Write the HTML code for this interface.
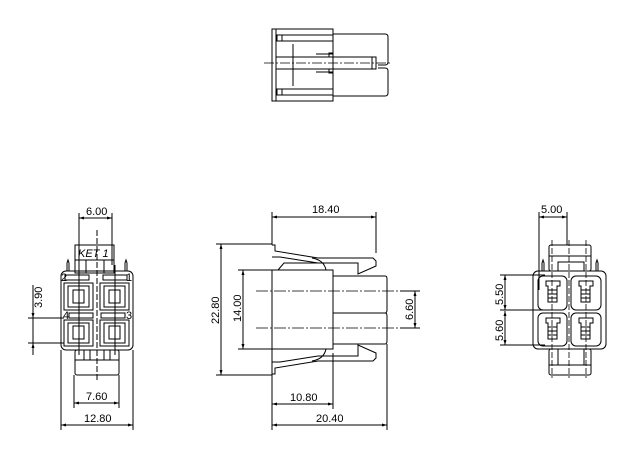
<!DOCTYPE html>
<html><head><meta charset="utf-8"><style>
html,body{margin:0;padding:0;background:#fff;width:628px;height:464px;overflow:hidden}
svg{display:block}
text{font-family:"Liberation Sans",sans-serif;font-size:11px;fill:#000;stroke:none}
</style></head><body>
<svg width="628" height="464" viewBox="0 0 628 464" xmlns="http://www.w3.org/2000/svg" fill="none" stroke="#000" stroke-width="1">
<defs>
<marker id="a" viewBox="0 0 10 10" refX="10" refY="5" markerWidth="7" markerHeight="5" orient="auto-start-reverse"><path d="M0,2 L10,5 L0,8" fill="#000" stroke="none"/></marker>
</defs>
<!-- TOP VIEW -->
<rect x="272" y="29" width="61" height="72"/>
<line x1="276" y1="35" x2="333" y2="35"/><line x1="276" y1="41" x2="333" y2="41"/>
<rect x="277" y="35" width="5" height="6"/>
<line x1="276" y1="89" x2="333" y2="89"/><line x1="276" y1="95" x2="333" y2="95"/>
<rect x="277" y="89" width="5" height="6"/>
<line x1="276" y1="29" x2="276" y2="101"/>
<line x1="293" y1="44" x2="293" y2="86"/>
<path d="M333,34 H385 Q388,34 388,37 V62 Q388,65 385,65 H378"/>
<path d="M333,96 H385 Q388,96 388,93 V71 Q388,68 385,68 H378"/>
<rect x="276" y="57" width="100" height="12"/>
<line x1="316" y1="54" x2="333" y2="54"/><line x1="316" y1="72" x2="333" y2="72"/>
<rect x="329" y="53" width="4" height="4"/><rect x="329" y="69" width="4" height="4"/>
<line x1="264" y1="63" x2="392" y2="63" stroke-dasharray="10,2,2,2" stroke-width="0.8"/>
<line x1="372" y1="57" x2="372" y2="69"/>

<!-- LEFT VIEW -->
<rect x="75" y="245" width="39" height="28"/>
<text x="78" y="257" font-style="italic" font-size="10">KET 1</text>
<line x1="75" y1="260" x2="114" y2="260"/>
<line x1="86" y1="260" x2="86" y2="273"/><line x1="104" y1="260" x2="104" y2="273"/>
<rect x="61" y="271" width="72" height="79" rx="5"/>
<line x1="97" y1="230" x2="97" y2="380" stroke-dasharray="6,2"/>
<rect x="65" y="275" width="24" height="5"/><rect x="103" y="275" width="24" height="5"/>
<rect x="69" y="313" width="24" height="5"/><rect x="101" y="313" width="24" height="5"/>
<text x="61" y="281" font-size="10">2</text><text x="126" y="281" font-size="10">1</text>
<text x="63" y="319" font-size="10">4</text><text x="126" y="319" font-size="10">3</text>
<g>
<rect x="64" y="283" width="29" height="27"/><rect x="68" y="286" width="21" height="21"/><rect x="73" y="290" width="11" height="13"/>
<rect x="100" y="283" width="29" height="27"/><rect x="104" y="286" width="21" height="21"/><rect x="109" y="290" width="11" height="13"/>
<rect x="64" y="320" width="29" height="26"/><rect x="68" y="323" width="21" height="20"/><rect x="73" y="326" width="11" height="13"/>
<rect x="100" y="320" width="29" height="26"/><rect x="104" y="323" width="21" height="20"/><rect x="109" y="326" width="11" height="13"/>
</g>
<line x1="79" y1="265" x2="79" y2="355"/><line x1="115" y1="265" x2="115" y2="355"/>
<path d="M67,271 V263 L68,260 L69,263 V271"/><path d="M125,271 V263 L126,260 L127,263 V271"/>
<rect x="75" y="350" width="44" height="25" rx="2"/>
<line x1="75" y1="360" x2="119" y2="360"/>
<line x1="84" y1="350" x2="84" y2="360"/><line x1="90" y1="350" x2="90" y2="360"/><line x1="104" y1="350" x2="104" y2="360"/><line x1="110" y1="350" x2="110" y2="360"/>
<!-- dims left -->
<line x1="79" y1="213" x2="79" y2="265"/><line x1="112" y1="213" x2="112" y2="265"/>
<line x1="79" y1="218" x2="112" y2="218" marker-start="url(#a)" marker-end="url(#a)"/>
<text x="86" y="215">6.00</text>
<line x1="28" y1="318" x2="64" y2="318"/><line x1="28" y1="343" x2="64" y2="343"/>
<line x1="33" y1="285" x2="33" y2="355" />
<line x1="33" y1="313" x2="33" y2="318" marker-end="url(#a)"/><line x1="33" y1="348" x2="33" y2="343" marker-end="url(#a)"/>
<text transform="translate(42,308) rotate(-90)">3.90</text>
<line x1="74" y1="375" x2="74" y2="408"/><line x1="119" y1="375" x2="119" y2="408"/>
<line x1="74" y1="403" x2="119" y2="403" marker-start="url(#a)" marker-end="url(#a)"/>
<text x="86" y="400">7.60</text>
<line x1="61" y1="350" x2="61" y2="430"/><line x1="133" y1="350" x2="133" y2="430"/>
<line x1="61" y1="425" x2="133" y2="425" marker-start="url(#a)" marker-end="url(#a)"/>
<text x="84" y="422">12.80</text>

<!-- MIDDLE VIEW -->
<rect x="272" y="270" width="61" height="79"/>
<path d="M333,276 H385 Q387,276 387,279 V310 Q387,313 385,313 H333"/>
<path d="M333,313 H385 Q387,313 387,316 V341 Q387,344 385,344 H333"/>
<path d="M272,245 H275 L275,251 L318,258 H373 L376,261 V266 L358,274 L358,263 H318 L280,257 H272"/>
<path d="M312,258 Q324,260 326,270"/>
<path d="M278,270 L284,263 H318"/>
<path d="M272,374 H275 L275,368 L318,361 H373 L376,358 V353 L358,345 L358,356 H318 L280,362 H272"/>
<path d="M312,361 Q324,359 326,349"/>
<line x1="256" y1="291" x2="400" y2="291" stroke-dasharray="12,2,2,2" stroke-width="0.8"/>
<line x1="256" y1="328" x2="400" y2="328" stroke-dasharray="12,2,2,2" stroke-width="0.8"/>
<!-- dims mid -->
<line x1="272" y1="212" x2="272" y2="245"/><line x1="376" y1="212" x2="376" y2="253"/>
<line x1="272" y1="217" x2="376" y2="217" marker-start="url(#a)" marker-end="url(#a)"/>
<text x="312" y="213">18.40</text>
<line x1="216" y1="244" x2="272" y2="244"/><line x1="216" y1="375" x2="272" y2="375"/>
<line x1="221" y1="244" x2="221" y2="375" marker-start="url(#a)" marker-end="url(#a)"/>
<text transform="translate(219,324) rotate(-90)">22.80</text>
<line x1="238" y1="270" x2="272" y2="270"/><line x1="238" y1="349" x2="272" y2="349"/>
<line x1="243" y1="270" x2="243" y2="349" marker-start="url(#a)" marker-end="url(#a)"/>
<text transform="translate(241,322) rotate(-90)">14.00</text>
<line x1="400" y1="291" x2="420" y2="291"/><line x1="400" y1="328" x2="420" y2="328"/>
<line x1="415" y1="291" x2="415" y2="328" marker-start="url(#a)" marker-end="url(#a)"/>
<text transform="translate(413,320) rotate(-90)">6.60</text>
<line x1="272" y1="349" x2="272" y2="430"/><line x1="333" y1="353" x2="333" y2="409"/><line x1="387" y1="344" x2="387" y2="430"/>
<line x1="272" y1="404" x2="333" y2="404" marker-start="url(#a)" marker-end="url(#a)"/>
<text x="290" y="401">10.80</text>
<line x1="272" y1="425" x2="387" y2="425" marker-start="url(#a)" marker-end="url(#a)"/>
<text x="316" y="422">20.40</text>

<!-- RIGHT VIEW -->
<rect x="549" y="245" width="42" height="26" rx="2"/>
<line x1="549" y1="256" x2="591" y2="256"/>
<rect x="558" y="262" width="26" height="9"/>
<rect x="533" y="271" width="73" height="78" rx="5"/>
<path d="M542,271 V263 L543,260 L544,263 V271"/><path d="M596,271 V263 L597,260 L598,263 V271"/>
<g>
<rect x="538" y="276" width="29" height="34" rx="5"/><rect x="571" y="276" width="30" height="34" rx="5"/>
<rect x="538" y="313" width="29" height="33" rx="5"/><rect x="571" y="313" width="30" height="33" rx="5"/>
<path d="M546,281 H560 V286 H557 V302 H548 V286 H546 Z"/><path d="M579,281 H593 V286 H590 V302 H581 V286 H579 Z"/>
<path d="M546,318 H560 V323 H557 V339 H548 V323 H546 Z"/><path d="M579,318 H593 V323 H590 V339 H581 V323 H579 Z"/>
<line x1="548" y1="290" x2="557" y2="290"/><line x1="548" y1="294" x2="557" y2="294"/><line x1="548" y1="298" x2="557" y2="298"/>
<line x1="581" y1="290" x2="590" y2="290"/><line x1="581" y1="294" x2="590" y2="294"/><line x1="581" y1="298" x2="590" y2="298"/>
<line x1="548" y1="327" x2="557" y2="327"/><line x1="548" y1="331" x2="557" y2="331"/><line x1="548" y1="335" x2="557" y2="335"/>
<line x1="581" y1="327" x2="590" y2="327"/><line x1="581" y1="331" x2="590" y2="331"/><line x1="581" y1="335" x2="590" y2="335"/>
</g>
<rect x="549" y="349" width="42" height="26" rx="2"/>
<line x1="549" y1="365" x2="591" y2="365"/>
<line x1="558" y1="349" x2="558" y2="365"/><line x1="584" y1="349" x2="584" y2="365"/>
<line x1="552" y1="240" x2="552" y2="378" stroke-dasharray="6,2" stroke-width="0.8"/>
<line x1="586" y1="240" x2="586" y2="378" stroke-dasharray="6,2" stroke-width="0.8"/>
<line x1="569" y1="240" x2="569" y2="378" stroke-dasharray="6,2" stroke-width="0.8"/>
<line x1="539" y1="212" x2="539" y2="290"/><line x1="567" y1="212" x2="567" y2="245"/>
<line x1="539" y1="217" x2="567" y2="217" marker-start="url(#a)" marker-end="url(#a)"/>
<text x="541" y="213">5.00</text>
<line x1="500" y1="275" x2="545" y2="275"/><line x1="500" y1="310" x2="545" y2="310"/><line x1="500" y1="345" x2="545" y2="345"/>
<line x1="505" y1="275" x2="505" y2="310" marker-start="url(#a)" marker-end="url(#a)"/>
<line x1="505" y1="311" x2="505" y2="345" marker-start="url(#a)" marker-end="url(#a)"/>
<text transform="translate(503,305) rotate(-90)">5.50</text>
<text transform="translate(503,341) rotate(-90)">5.60</text>
</svg>
</body></html>
